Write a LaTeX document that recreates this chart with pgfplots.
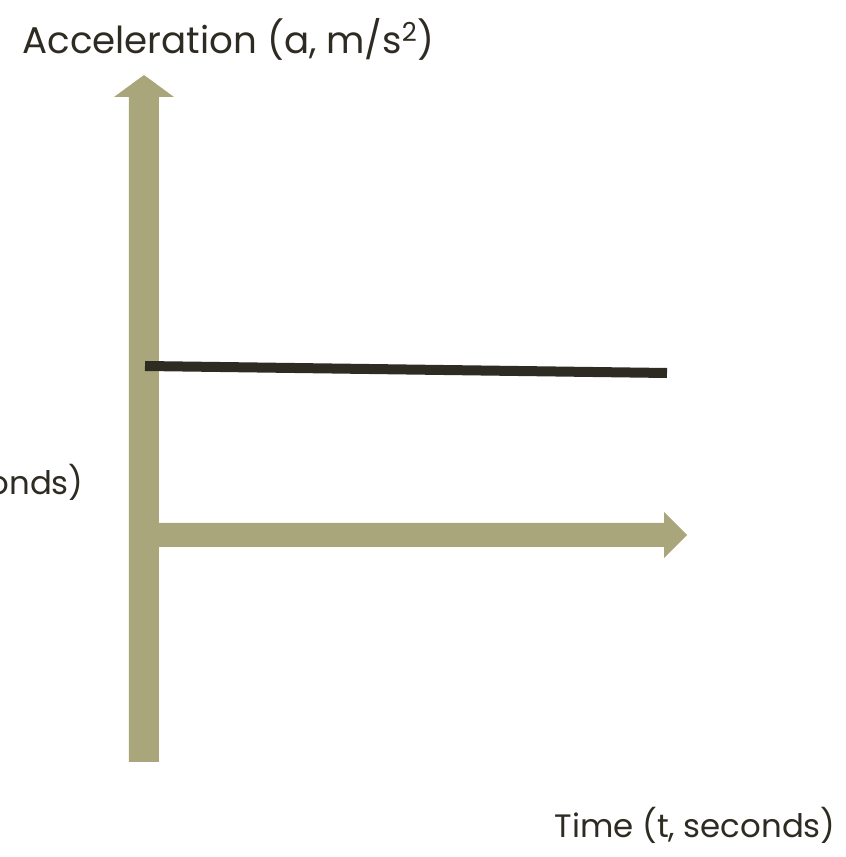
\documentclass[border=0pt]{standalone}
\usepackage{pgfplots}
\pgfplotsset{compat=1.18}
\usepackage{fontspec}
\setmainfont{Poppins}
\definecolor{olive}{HTML}{A9A67C}
\definecolor{ink}{HTML}{2E2B22}
\begin{document}
\begin{tikzpicture}
\begin{axis}[
  scale only axis, width=423pt, height=428.5pt,
  xmin=0, xmax=846, ymin=0, ymax=857,
  hide axis, clip=false,
]
% vertical axis arrow
\addplot[fill=olive, draw=none] coordinates {
  (129,95) (159,95) (159,760) (174,760) (144,782) (114,760) (129,760)} -- cycle;
% horizontal axis arrow
\addplot[fill=olive, draw=none] coordinates {
  (159,310) (664,310) (664,299) (687,322) (664,345) (664,334) (159,334)} -- cycle;
% acceleration line
\addplot[color=ink, line width=5pt] coordinates {(145,491) (667,484)};
\node[anchor=base west, text=ink, font=\fontsize{18.6}{22}\selectfont, inner sep=0pt] at (axis cs:22,803) {Acceleration (a, m/s\textsuperscript{2})};
\node[anchor=base east, text=ink, font=\fontsize{16.2}{20}\selectfont, inner sep=0pt] at (axis cs:836,19) {Time (t, seconds)};
\node[anchor=base east, text=ink, font=\fontsize{16.2}{20}\selectfont, inner sep=0pt] at (axis cs:84,362) {Time (t, seconds)};
\end{axis}
\pgfresetboundingbox
\useasboundingbox (current axis.south west) rectangle (current axis.north east);
\end{tikzpicture}
\end{document}
